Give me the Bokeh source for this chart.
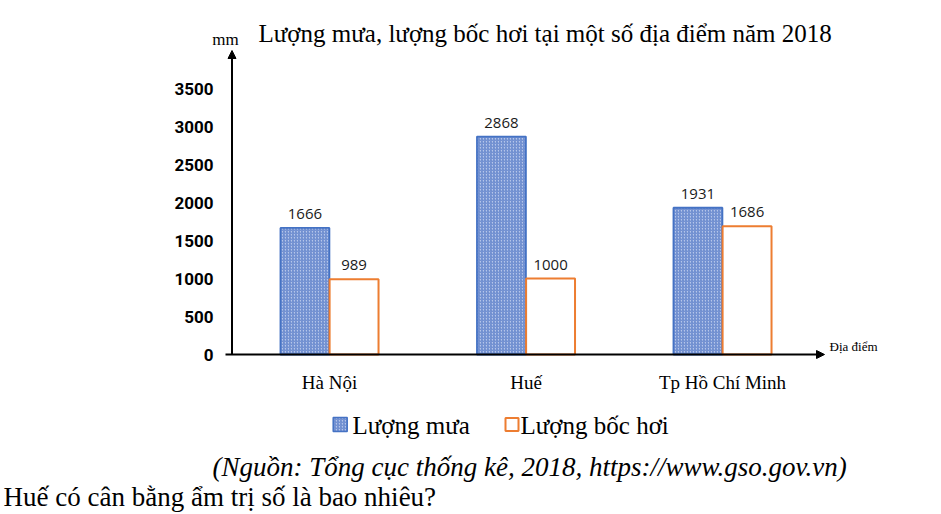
from bokeh.plotting import figure
from bokeh.models import Range1d, Arrow, NormalHead
from bokeh.core.properties import value
from bokeh.embed import file_html
from bokeh.resources import INLINE

# ---- data ----
places = ["Hà Nội", "Huế", "Tp Hồ Chí Minh"]
rain = [1666, 2868, 1931]          # Lượng mưa (mm)
evap = [989, 1000, 1686]           # Lượng bốc hơi (mm)
y_ticks = [0, 500, 1000, 1500, 2000, 2500, 3000, 3500]
y_tick_labels = [str(t) for t in y_ticks]
series_names = ["Lượng mưa", "Lượng bốc hơi"]
title_text = "Lượng mưa, lượng bốc hơi tại một số địa điểm  năm 2018"
y_unit = "mm"
x_unit = "Địa điểm"
source_text = "(Nguồn: Tổng cục thống kê, 2018, https://www.gso.gov.vn)"
question_text = "Huế có cân bằng ẩm trị số là bao nhiêu?"

# ---- layout ----
W, H = 941, 514
PX = 196.5   # px per category unit
X0 = 329     # canvas px of category 0
PY = 0.076   # px per mm
Y0 = 354     # canvas px (from top) of 0 mm


def dx(px):
    return (px - X0) / PX


def dy(py):
    return (Y0 - py) / PY


SERIF = value("Liberation Serif")
BLUE = "#4472C4"
ORANGE = "#ED7D31"

p = figure(width=W, height=H,
           x_range=Range1d(-X0 / PX, (W - X0) / PX),
           y_range=Range1d(-(H - Y0) / PY, Y0 / PY),
           x_axis_type=None, y_axis_type=None,
           output_backend="svg", toolbar_location=None, min_border=0)
p.grid.visible = False
p.outline_line_color = None
p.background_fill_color = "white"
p.border_fill_color = "white"

idx = list(range(len(places)))
bw = 0.249
rain_x = [i - 0.125 for i in idx]
evap_x = [i + 0.125 for i in idx]

hatch = dict(hatch_pattern="/", hatch_color="#6a8bcf", hatch_scale=3,
             hatch_weight=1.2, hatch_alpha=1.0)
RAIN_FILL = "#b6c6e9"

p.vbar(x=rain_x, top=rain, bottom=0, width=bw, fill_color=RAIN_FILL,
       line_color=BLUE, line_width=1.8, **hatch)
p.vbar(x=evap_x, top=evap, bottom=0, width=bw, fill_color="white",
       line_color=ORANGE, line_width=2)

gap = 14 / PY
lab_font = value("Open Sans")
p.text(x=rain_x, y=[v + gap for v in rain], text=[str(v) for v in rain],
       text_align="center", text_baseline="middle", text_font=lab_font,
       text_font_size="15px", text_color="#1a1a1a")
p.text(x=evap_x, y=[v + gap for v in evap], text=[str(v) for v in evap],
       text_align="center", text_baseline="middle", text_font=lab_font,
       text_font_size="15px", text_color="#1a1a1a")

# axes with arrows
p.add_layout(Arrow(end=NormalHead(size=8, fill_color="black", line_color="black"),
                   x_start=dx(231.5), y_start=0, x_end=dx(231.5), y_end=dy(50),
                   line_width=2, line_color="black"))
p.add_layout(Arrow(end=NormalHead(size=8, fill_color="black", line_color="black"),
                   x_start=dx(225), y_start=0, x_end=dx(824), y_end=0,
                   line_width=2, line_color="black"))

# y tick labels
p.text(x=[dx(213)] * len(y_ticks), y=y_ticks, text=y_tick_labels,
       text_align="right", text_baseline="middle",
       text_font=value("Roboto"), text_font_style="bold",
       text_font_size="17px", text_color="black")

# category labels
p.text(x=idx, y=[dy(381.5)] * len(idx), text=places, text_align="center",
       text_baseline="middle", text_font=SERIF, text_font_size="19px",
       text_color="black")

# units
p.text(x=[dx(225)], y=[dy(39)], text=[y_unit], text_align="center",
       text_baseline="middle", text_font=SERIF, text_font_size="17px",
       text_color="black")
p.text(x=[dx(829)], y=[dy(345.5)], text=[x_unit], text_align="left",
       text_baseline="middle", text_font=SERIF, text_font_size="13px",
       text_color="black")

# title
p.text(x=[dx(258)], y=[dy(33)], text=[title_text], text_align="left",
       text_baseline="middle", text_font=SERIF, text_font_size="25px",
       text_color="black")

# legend
p.scatter(x=[dx(339.7)], y=[dy(424)], marker="square", size=14,
          fill_color=RAIN_FILL, line_color=BLUE, line_width=1.5, **hatch)
p.scatter(x=[dx(511.5)], y=[dy(424)], marker="square", size=13,
          fill_color="white", line_color=ORANGE, line_width=2)
p.text(x=[dx(352), dx(520)], y=[dy(424.5)] * 2, text=series_names,
       text_align="left", text_baseline="middle", text_font=SERIF,
       text_font_size="25px", text_color="black")

# source & question
p.text(x=[dx(212)], y=[dy(466)], text=[source_text], text_align="left",
       text_baseline="middle", text_font=SERIF, text_font_style="italic",
       text_font_size="27px", text_color="black")
p.text(x=[dx(3)], y=[dy(496)], text=[question_text], text_align="left",
       text_baseline="middle", text_font=SERIF, text_font_size="27px",
       text_color="black")

open("out.html", "w").write(file_html(p, INLINE))
